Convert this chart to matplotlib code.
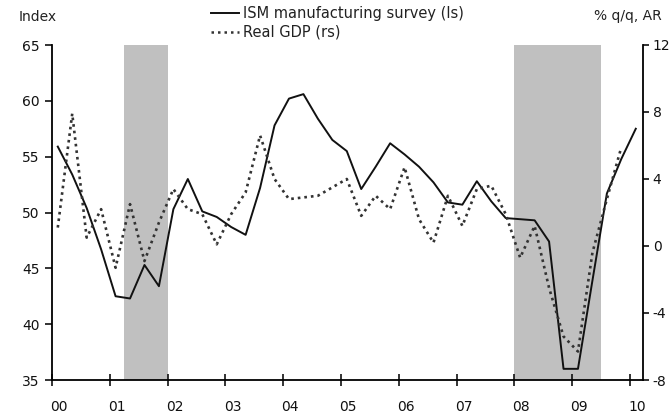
import numpy as np
import matplotlib.pyplot as plt
import matplotlib.transforms as mtransforms
from matplotlib.lines import Line2D

plt.rcParams['font.family'] = ['DejaVu Sans']
plt.rcParams['font.size'] = 10
plt.rcParams['axes.unicode_minus'] = False
plt.rcParams['text.color'] = '#222222'
plt.rcParams['xtick.color'] = '#111111'
plt.rcParams['ytick.color'] = '#111111'

# Datos trimestrales, 2000T1 en adelante
ism = [55.9, 53.4, 50.4, 46.7,
       42.5, 42.3, 45.3, 43.4,
       50.3, 53.0, 50.1, 49.6,
       48.7, 48.0, 52.2, 57.8,
       60.2, 60.6, 58.4, 56.5,
       55.5, 52.1, 54.1, 56.2,
       55.2, 54.1, 52.7, 50.9,
       50.7, 52.8, 51.0, 49.5,
       49.4, 49.3, 47.4, 36.0,
       36.0, 43.9, 51.7, 54.8,
       57.5]
gdp = [1.1, 7.9, 0.5, 2.2,
       -1.3, 2.5, -0.9, 1.4,
       3.4, 2.2, 1.9, 0.1,
       1.9, 3.2, 6.6, 4.0,
       2.8, 2.9, 3.0, 3.5,
       4.0, 1.8, 3.0, 2.2,
       4.7, 1.6, 0.2, 3.0,
       1.2, 3.4, 3.6, 1.9,
       -0.7, 1.2, -2.5, -5.4,
       -6.3, -0.4, 2.8, 5.9]
years = np.arange(2000, 2011)
year_labels = ['00', '01', '02', '03', '04', '05', '06', '07', '08', '09', '10']
recessions = [(2001.25, 2002.0), (2008.0, 2009.5)]

# Posicion de cada trimestre dentro del anio
x_ism = 2000.1 + 0.25 * np.arange(len(ism))
x_gdp = 2000.1 + 0.25 * np.arange(len(gdp))

fig = plt.figure(figsize=(6.7, 4.19), dpi=100)
ax = fig.add_axes([52 / 670, 1 - 380 / 419, (643 - 52) / 670, (380 - 45) / 419])
ax2 = ax.twinx()

for a, b in recessions:
    ax.axvspan(a, b, color='#c0c0c0', lw=0, zorder=0)

ax.plot(x_ism, ism, color='#111111', lw=1.4, zorder=3)
ax2.plot(x_gdp, gdp, color='#333333', lw=1.9, ls=(0, (1, 1.5)), zorder=3)

ax.set_xlim(2000, 2010.225)
ax.set_ylim(35, 65)
ax2.set_ylim(-8, 12)
ax.set_xticks(years)
ax.set_xticklabels(year_labels)
ax.set_yticks(np.arange(35, 66, 5))
ax2.set_yticks(np.arange(-8, 13, 4))

ax.spines['top'].set_visible(False)
ax.spines['right'].set_visible(False)
for s in ['top', 'left', 'bottom']:
    ax2.spines[s].set_visible(False)
for s in ['left', 'bottom']:
    ax.spines[s].set_linewidth(1.3)
ax2.spines['right'].set_linewidth(1.3)

ax.tick_params(axis='y', direction='out', length=5, width=1.2, pad=4)
ax.tick_params(axis='x', direction='inout', length=9, width=1.2, pad=10)
ax2.tick_params(axis='y', direction='out', length=4, width=1.2, pad=3)

# Etiquetas del eje x un poco a la derecha de cada marca
shift = mtransforms.ScaledTranslation(7 / 100, 0, fig.dpi_scale_trans)
for lbl in ax.get_xticklabels():
    lbl.set_transform(lbl.get_transform() + shift)

# Textos de ejes y leyenda
fig.text(19 / 670, 1 - 17 / 419, 'Index', va='center', ha='left')
fig.text(594 / 670, 1 - 16 / 419, '% q/q, AR', va='center', ha='left')

handles = [Line2D([], [], color='#111111', lw=1.4),
           Line2D([], [], color='#333333', lw=1.8, ls=(0, (1, 1.6)))]
fig.legend(handles, ['ISM manufacturing survey (ls)', 'Real GDP (rs)'],
           loc='upper left', bbox_to_anchor=(211 / 670, 1 - 6 / 419),
           frameon=False, handlelength=1.9, handletextpad=0.3,
           labelspacing=0.25, borderpad=0, borderaxespad=0,
           prop={'size': 10.5})

fig.savefig('out.png', dpi=100)
